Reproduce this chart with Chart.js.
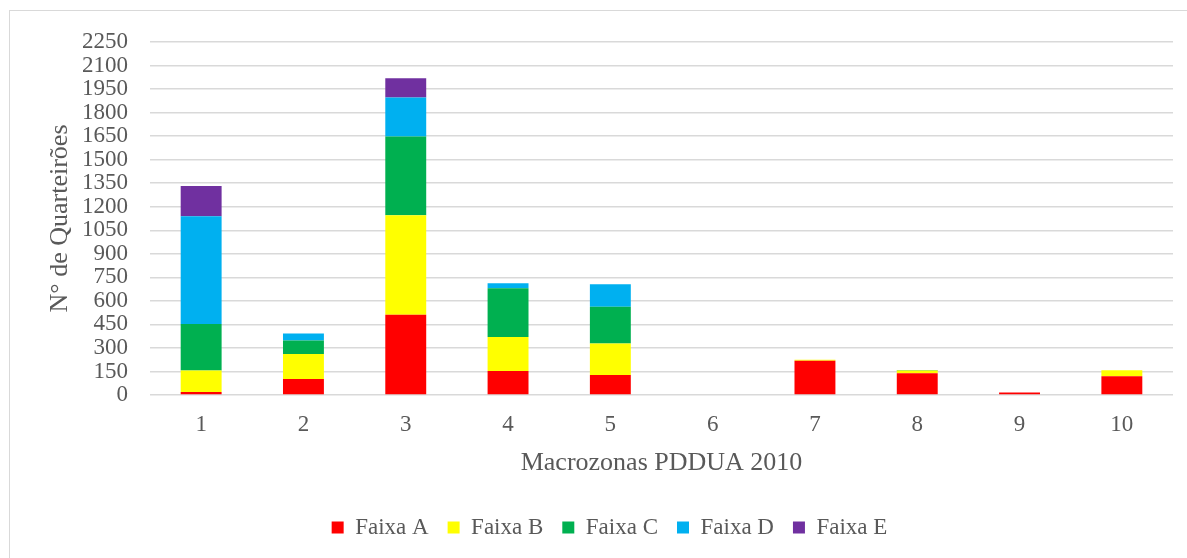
<!DOCTYPE html>
<html>
<head>
<meta charset="utf-8">
<script src="https://cdn.jsdelivr.net/npm/chart.js@4"></script>
<style>
  html, body { margin: 0; padding: 0; background: #fff; overflow: hidden; }
  #wrap { position: relative; width: 1187px; height: 558px; overflow: hidden; }
  #frame { position: absolute; left: 9px; top: 10px; width: 1200px; height: 600px; border-left: 1px solid #d9d9d9; border-top: 1px solid #d9d9d9; }
  canvas { position: absolute; left: 0; top: 0; }
</style>
</head>
<body>
<div id="wrap">
  <div id="frame"></div>
  <canvas id="chart" width="1187" height="558"></canvas>
</div>
<script>
const macrozonas = ['1', '2', '3', '4', '5', '6', '7', '8', '9', '10'];
const faixaA = [19, 102, 511, 153, 128, 0, 219, 139, 16, 120];
const faixaB = [137, 160, 634, 217, 200, 0, 6, 17, 0, 38];
const faixaC = [297, 85, 502, 311, 234, 0, 0, 4, 0, 0];
const faixaD = [687, 45, 249, 32, 144, 0, 0, 0, 0, 0];
const faixaE = [192, 0, 123, 0, 0, 0, 0, 0, 0, 0];

const textColor = '#595959';
const serif = "'Liberation Serif', 'Times New Roman', serif";

// décale un peu la légende vers la droite, comme dans l'original
const legendShift = {
    id: 'legendShift',
    afterLayout(chart) {
        chart.legend.left += 18;
        chart.legend.right += 18;
    }
};

const chart = new Chart(
    document.getElementById('chart').getContext('2d'),
    {
        type: 'bar',
        data: {
            labels: macrozonas,
            datasets: [
                { label: 'Faixa A', data: faixaA, backgroundColor: '#FF0000' },
                { label: 'Faixa B', data: faixaB, backgroundColor: '#FFFF00' },
                { label: 'Faixa C', data: faixaC, backgroundColor: '#00B050' },
                { label: 'Faixa D', data: faixaD, backgroundColor: '#00B0F0' },
                { label: 'Faixa E', data: faixaE, backgroundColor: '#7030A0' }
            ]
        },
        options: {
            responsive: false,
            animation: false,
            devicePixelRatio: 1,
            datasets: {
                bar: { categoryPercentage: 1, barPercentage: 0.4 }
            },
            layout: {
                padding: { left: 10, right: 14, top: 42, bottom: 9 }
            },
            plugins: {
                tooltip: { enabled: false },
                legend: {
                    position: 'bottom',
                    labels: {
                        color: textColor,
                        font: { family: serif, size: 23 },
                        boxWidth: 12,
                        boxHeight: 12,
                        padding: 19
                    }
                }
            },
            scales: {
                x: {
                    stacked: true,
                    grid: { display: false },
                    border: { display: false },
                    ticks: { color: textColor, font: { family: serif, size: 23 }, padding: 8 },
                    title: {
                        display: true,
                        text: 'Macrozonas PDDUA 2010',
                        color: textColor,
                        font: { family: serif, size: 26 },
                        padding: { top: 4, bottom: 18 }
                    },
                    afterFit: scale => { scale.height = 102; }
                },
                y: {
                    stacked: true,
                    min: 0,
                    max: 2250,
                    grid: { color: '#d9d9d9', lineWidth: 1.5, drawTicks: false },
                    border: { display: false },
                    ticks: {
                        stepSize: 150,
                        autoSkip: false,
                        color: textColor,
                        font: { family: serif, size: 23 },
                        padding: 22,
                        callback: value => String(value)
                    },
                    title: {
                        display: true,
                        text: 'N° de Quarteirões',
                        color: textColor,
                        font: { family: serif, size: 26 },
                        padding: { top: 35, bottom: 0 }
                    },
                    afterFit: scale => { scale.width = 140; }
                }
            }
        },
        plugins: [legendShift]
    }
);
</script>
</body>
</html>
